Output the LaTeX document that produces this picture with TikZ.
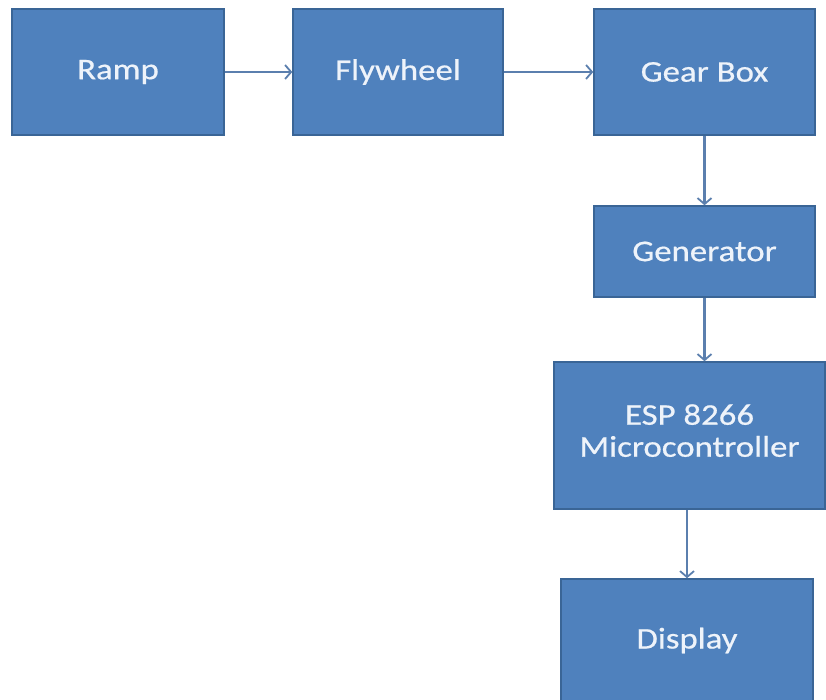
\documentclass[tikz,border=0pt]{standalone}
\usepackage{fontspec}
\setmainfont[FakeStretch=1.16,FakeBold=0.6]{Carlito}
\usetikzlibrary{arrows.meta}
\definecolor{boxfill}{HTML}{4F81BD}
\definecolor{boxline}{HTML}{3A6596}
\definecolor{arrowc}{HTML}{5B7FAE}
\definecolor{txt}{HTML}{EEF3FA}
\begin{document}
\begin{tikzpicture}[x=1pt,y=-1pt,
  blk/.style={draw=boxline, line width=1.5pt, fill=boxfill, text=txt, inner sep=0pt,
    font=\fontsize{30}{32}\selectfont, align=center},
  conn/.style={draw=arrowc, line width=2.2pt, -{Straight Barb[length=6pt,width=14pt,line width=1.8pt]}}]
\useasboundingbox (0,0) rectangle (826,700);
\fill[white] (0,0) rectangle (826,700);
\node[blk, minimum width=212pt, minimum height=126pt] (ramp) at (118,72) {Ramp};
\node[blk, minimum width=210pt, minimum height=126pt] (fly) at (398,72) {Flywheel};
\node[blk, minimum width=221pt, minimum height=126pt] (gear) at (704.5,72) {Gear Box};
\node[blk, minimum width=221pt, minimum height=91pt] (gen) at (704.5,251.5) {Generator};
\node[blk, minimum width=271pt, minimum height=147pt] (esp) at (689.5,435.5) {ESP 8266\\Microcontroller\\[-22pt]\mbox{}};
\node[blk, minimum width=252pt, minimum height=123pt] (disp) at (687,640.5) {Display};
\draw[conn] (ramp) -- (fly);
\draw[conn] (fly) -- (gear);
\draw[conn] (gear) -- (gen);
\draw[conn] (gen.south) -- (gen.south |- esp.north);
\draw[conn] (esp.south -| disp.north) -- (disp.north);
\end{tikzpicture}
\end{document}
